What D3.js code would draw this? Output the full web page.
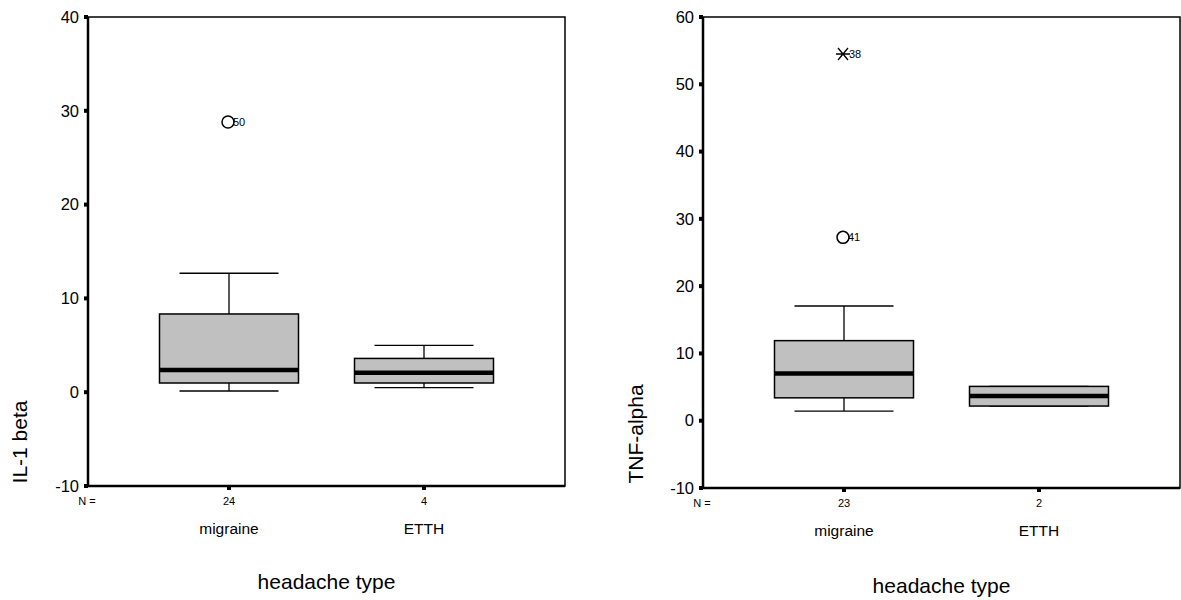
<!DOCTYPE html>
<html>
<head>
<meta charset="utf-8">
<script src="https://cdn.jsdelivr.net/npm/d3@7"></script>
<style>
	body { margin: 0; background: #fff; }
	svg text { font-family: "Liberation Sans", Arial, sans-serif; fill: #000; }
</style>
</head>
<body>
<div id="chart"><svg width="1181" height="600"></svg></div>
<script>

// data
const categories = ["migraine", "ETTH"];

const il1Counts = [24, 4];
const il1Boxes = [
	{lo: 0.13, q1: 0.98, med: 2.37, q3: 8.34, hi: 12.68},
	{lo: 0.48, q1: 0.98, med: 2.08, q3: 3.6, hi: 5.0}
];
const il1Outliers = [{cat: "migraine", value: 28.8, label: "50", type: "circle"}];
const il1Ticks = [-10, 0, 10, 20, 30, 40];

const tnfCounts = [23, 2];
const tnfBoxes = [
	{lo: 1.44, q1: 3.4, med: 7.0, q3: 11.9, hi: 17.05},
	{lo: 2.18, q1: 2.18, med: 3.67, q3: 5.1, hi: 5.1}
];
const tnfOutliers = [
	{cat: "migraine", value: 27.25, label: "41", type: "circle"},
	{cat: "migraine", value: 54.5, label: "38", type: "star"}
];
const tnfTicks = [-10, 0, 10, 20, 30, 40, 50, 60];

const svg = d3.select("#chart").select("svg");

function makePanel(opt) {
	
	const g = svg.append("g");
	const left = opt.left, right = opt.right, top = opt.top, bottom = opt.bottom;
	
	// scales
	const yScale = d3.scaleLinear()
		.domain(opt.domain)
		.range([bottom, top]);
	
	const step = 195;
	const xScale = d3.scalePoint()
		.domain(categories)
		.range([left + 141, left + 141 + step]);
	
	// frame
	g.append("rect")
		.attr("x", left).attr("y", top)
		.attr("width", right - left).attr("height", bottom - top)
		.attr("fill", "none").attr("stroke", "#000").attr("stroke-width", 1.5);
	
	g.append("line")
		.attr("x1", left).attr("x2", left).attr("y1", top).attr("y2", bottom + 1)
		.attr("stroke", "#000").attr("stroke-width", 2.5);
	g.append("line")
		.attr("x1", left - 1).attr("x2", right).attr("y1", bottom).attr("y2", bottom)
		.attr("stroke", "#000").attr("stroke-width", 2.5);
	
	// y ticks
	const yt = g.selectAll(".yTick").data(opt.ticks).enter().append("g")
		.attr("transform", d => `translate(${left}, ${yScale(d)})`);
	yt.append("rect").attr("x", -4).attr("y", -2).attr("width", 4).attr("height", 4).attr("fill", "#000");
	yt.append("text")
		.attr("x", -9).attr("dy", "0.35em")
		.attr("text-anchor", "end")
		.style("font-size", "16.5px")
		.text(d => d);
	
	// x ticks
	const xt = g.selectAll(".xTick").data(categories).enter().append("g")
		.attr("transform", d => `translate(${xScale(d)}, ${bottom})`);
	xt.append("rect").attr("x", -2).attr("y", 0).attr("width", 4).attr("height", 4).attr("fill", "#000");
	
	// N labels
	g.append("text")
		.attr("x", left - 1).attr("y", bottom + 19)
		.attr("text-anchor", "middle")
		.style("font-size", "11px")
		.text("N =");
	g.selectAll(".nLabel").data(opt.counts).enter().append("text")
		.attr("x", (d, i) => xScale(categories[i]))
		.attr("y", bottom + 19)
		.attr("text-anchor", "middle")
		.style("font-size", "11px")
		.text(d => d);
	
	// category labels
	g.selectAll(".catLabel").data(categories).enter().append("text")
		.attr("x", d => xScale(d))
		.attr("y", bottom + 48)
		.attr("text-anchor", "middle")
		.style("font-size", "15.5px")
		.text(d => d);
	
	// axis titles
	g.append("text")
		.attr("x", (left + right) / 2)
		.attr("y", opt.xTitleY)
		.attr("text-anchor", "middle")
		.style("font-size", "21px")
		.text("headache type");
	
	g.append("text")
		.attr("transform", `translate(${opt.yTitleX}, ${opt.yTitleY}) rotate(-90)`)
		.attr("text-anchor", "middle")
		.style("font-size", "21px")
		.text(opt.yTitle);
	
	// boxes
	const boxW = 139, capW = 99;
	const bx = g.selectAll(".box").data(opt.boxes).enter().append("g")
		.attr("transform", (d, i) => `translate(${xScale(categories[i])}, 0)`);
	
	bx.append("line")
		.attr("x1", 0).attr("x2", 0)
		.attr("y1", d => yScale(d.hi)).attr("y2", d => yScale(d.q3))
		.attr("stroke", "#000").attr("stroke-width", 1.3);
	bx.append("line")
		.attr("x1", 0).attr("x2", 0)
		.attr("y1", d => yScale(d.q1)).attr("y2", d => yScale(d.lo))
		.attr("stroke", "#000").attr("stroke-width", 1.3);
	bx.append("line")
		.attr("x1", -capW / 2).attr("x2", capW / 2)
		.attr("y1", d => yScale(d.hi)).attr("y2", d => yScale(d.hi))
		.attr("stroke", "#000").attr("stroke-width", 1.3);
	bx.append("line")
		.attr("x1", -capW / 2).attr("x2", capW / 2)
		.attr("y1", d => yScale(d.lo)).attr("y2", d => yScale(d.lo))
		.attr("stroke", "#000").attr("stroke-width", 1.3);
	bx.append("rect")
		.attr("x", -boxW / 2).attr("width", boxW)
		.attr("y", d => yScale(d.q3))
		.attr("height", d => yScale(d.q1) - yScale(d.q3))
		.attr("fill", "#c0c0c0").attr("stroke", "#000").attr("stroke-width", 1.5);
	bx.append("line")
		.attr("x1", -boxW / 2).attr("x2", boxW / 2)
		.attr("y1", d => yScale(d.med)).attr("y2", d => yScale(d.med))
		.attr("stroke", "#000").attr("stroke-width", 4.5);
	
	// outliers
	const ot = g.selectAll(".outlier").data(opt.outliers).enter().append("g")
		.attr("transform", d => `translate(${xScale(d.cat) - 1}, ${yScale(d.value)})`);
	ot.filter(d => d.type === "circle").append("circle")
		.attr("r", 6).attr("fill", "#fff").attr("stroke", "#000").attr("stroke-width", 1.5);
	ot.filter(d => d.type === "star").append("path")
		.attr("d", "M-5,-6L5,6M-5,6L5,-6M-7,0L7,0")
		.attr("fill", "none").attr("stroke", "#000").attr("stroke-width", 1.3);
	ot.append("text")
		.attr("x", d => d.type === "circle" ? 5 : 6)
		.attr("dy", "0.35em")
		.style("font-size", "11px")
		.text(d => d.label);
}

makePanel({
	left: 88, right: 565, top: 17, bottom: 486,
	domain: [-10, 40], ticks: il1Ticks,
	counts: il1Counts, boxes: il1Boxes, outliers: il1Outliers,
	yTitle: "IL-1 beta", yTitleX: 27, yTitleY: 442, xTitleY: 589
});

makePanel({
	left: 703, right: 1180, top: 17, bottom: 488,
	domain: [-10, 60], ticks: tnfTicks,
	counts: tnfCounts, boxes: tnfBoxes, outliers: tnfOutliers,
	yTitle: "TNF-alpha", yTitleX: 643, yTitleY: 434, xTitleY: 593
});

</script>
</body>
</html>
